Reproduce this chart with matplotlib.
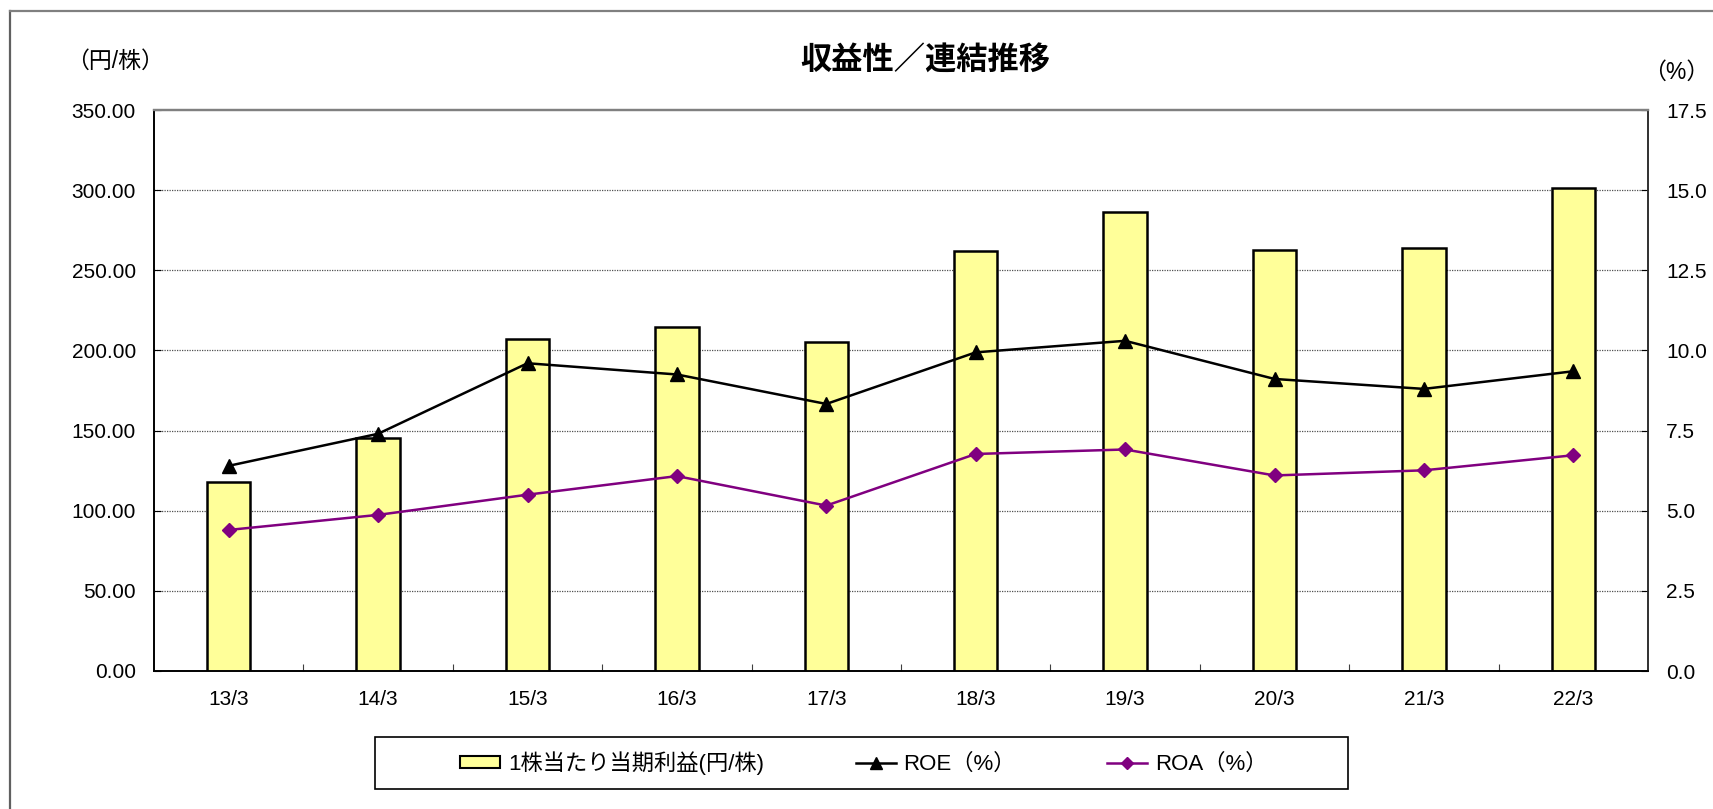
import matplotlib
matplotlib.use('Agg')
import matplotlib.pyplot as plt
from matplotlib.patches import Rectangle
from matplotlib.lines import Line2D
from matplotlib.ticker import FormatStrFormatter, MultipleLocator, FixedLocator

plt.rcParams['font.family'] = ['Liberation Sans', 'Noto Sans CJK JP', 'DejaVu Sans']

# data
years = ['13/3', '14/3', '15/3', '16/3', '17/3', '18/3', '19/3', '20/3', '21/3', '22/3']
eps = [118.0, 145.2, 207.2, 214.8, 205.0, 261.8, 286.2, 262.6, 264.2, 301.5]
roe = [6.40, 7.40, 9.60, 9.25, 8.33, 9.94, 10.30, 9.11, 8.80, 9.35]
roa = [4.40, 4.87, 5.50, 6.08, 5.16, 6.77, 6.91, 6.10, 6.26, 6.73]

label_eps = '1株当たり当期利益(円/株)'
label_roe = 'ROE（%）'
label_roa = 'ROA（%）'

W, H = 1713, 809
fig = plt.figure(figsize=(W / 100, H / 100), dpi=100)

# axes placement in pixels of the reference
left, right, top, bottom = 154, 1648, 110, 671
ax = fig.add_axes([left / W, 1 - bottom / H, (right - left) / W, (bottom - top) / H])
ax2 = ax.twinx()

x = list(range(len(years)))

#1. bars
ax.bar(x, eps, width=0.29, color='#FFFF99', edgecolor='black', linewidth=1.8, zorder=3)
ax.set_ylim(0, 350)
ax.set_xlim(-0.5, len(years) - 0.5)
ax.yaxis.set_major_locator(MultipleLocator(50))
ax.yaxis.set_major_formatter(FormatStrFormatter('%.2f'))
for v in range(50, 350, 50):
    ax.axhline(v, color='#505050', lw=0.9, ls=(0, (1, 1)), zorder=1)

ax.set_xticks(x)
ax.set_xticklabels(years)
ax.xaxis.set_minor_locator(FixedLocator([i + 0.5 for i in range(len(years) - 1)]))
ax.tick_params(axis='x', which='major', length=0, pad=14, labelsize=15)
ax.tick_params(axis='x', which='minor', direction='in', length=5, width=0.8, color='#404040')
ax.tick_params(axis='y', direction='in', length=5, width=0.8, pad=13, labelsize=15)

#2. lines on the right axis
ax2.plot(x, roe, color='black', lw=1.8, marker='^', markersize=10, zorder=4)
ax2.plot(x, roa, color='#800080', lw=1.8, marker='D', markersize=7, zorder=4)
ax2.set_ylim(0, 17.5)
ax2.yaxis.set_major_locator(MultipleLocator(2.5))
ax2.yaxis.set_major_formatter(FormatStrFormatter('%.1f'))
ax2.tick_params(axis='y', direction='in', length=5, width=0.8, pad=13, labelsize=15)

for a in (ax, ax2):
    a.spines['top'].set_color('#808080')
    a.spines['top'].set_linewidth(1.6)
    a.spines['left'].set_color('black')
    a.spines['bottom'].set_color('black')
    a.spines['right'].set_color('#303030')
    for s in ['left', 'bottom', 'right']:
        a.spines[s].set_linewidth(1.2)

#3. texts
fig.text(925 / W, 1 - 62 / H, '収益性／連結推移', ha='center', va='center',
         fontsize=22.5, fontweight='bold')
fig.text(115 / W, 1 - 61 / H, '（円/株）', ha='center', va='center', fontsize=16.5)
fig.text(1676 / W, 1 - 72 / H, '（%）', ha='center', va='center', fontsize=16.5)

#4. legend with its own frame
handles = [Rectangle((0, 0), 1, 1, facecolor='#FFFF99', edgecolor='black', linewidth=1.5),
           Line2D([], [], color='black', lw=1.8, marker='^', markersize=9),
           Line2D([], [], color='#800080', lw=1.8, marker='D', markersize=6.5)]
fig.legend(handles, [label_eps, label_roe, label_roa], loc='center',
           bbox_to_anchor=(864 / W, 1 - 763 / H), ncol=3, frameon=False,
           fontsize=16, handlelength=1.8, handleheight=0.5, handletextpad=0.36,
           columnspacing=4.1)
fig.patches.append(Rectangle((375 / W, 1 - 789 / H), 973 / W, 52 / H,
                             transform=fig.transFigure, fill=False,
                             edgecolor='black', linewidth=1.2))

# outer chart frame (cut at right and bottom)
fig.add_artist(Line2D([10 / W, 10 / W], [0, 1 - 11 / H], transform=fig.transFigure,
                      color='#606060', lw=1.6))
fig.add_artist(Line2D([10 / W, 1], [1 - 11 / H, 1 - 11 / H], transform=fig.transFigure,
                      color='#808080', lw=1.6))

plt.savefig('out.png', dpi=100)
plt.close()
